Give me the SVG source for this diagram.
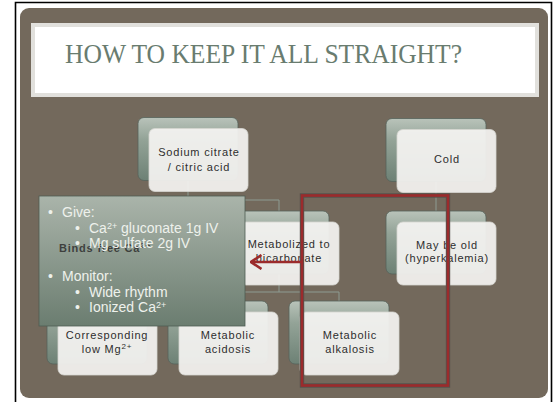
<svg xmlns="http://www.w3.org/2000/svg" width="557" height="402" viewBox="0 0 557 402">
  <defs>
    <linearGradient id="backGrad" x1="0" y1="0" x2="0" y2="1">
      <stop offset="0" stop-color="#b9c3ba"/>
      <stop offset="0.35" stop-color="#93a397"/>
      <stop offset="1" stop-color="#6d8175"/>
    </linearGradient>
    <linearGradient id="panelGrad" x1="0" y1="0" x2="0" y2="1">
      <stop offset="0" stop-color="#aab4aa"/>
      <stop offset="1" stop-color="#6b7d70"/>
    </linearGradient>
    <marker id="chev" viewBox="0 0 12 16" refX="10.5" refY="8" markerWidth="12" markerHeight="16" markerUnits="userSpaceOnUse" orient="auto">
      <path d="M0,1 L10.5,8 L0,15" fill="none" stroke="#9b2b2c" stroke-width="2.6"/>
    </marker>
  </defs>
  <style>
    .back { fill: url(#backGrad); stroke: #56625a; stroke-width: 0.8; }
    .front { fill: #f4f3f1; fill-opacity: 0.93; stroke: #d6d5d1; stroke-width: 0.8; }
    .lbl { font-family: "Liberation Sans", Arial, sans-serif; font-size: 11px; letter-spacing: 0.8px; fill: #2e2e2e; text-anchor: middle; }
    .conn { fill: none; stroke: #8e9c92; stroke-width: 1; }
    .pt { font-family: "Liberation Sans", Arial, sans-serif; font-size: 14px; fill: #eef1ec; }
  </style>

  <!-- page frame -->
  <rect x="0" y="0" width="557" height="402" fill="#ffffff"/>
  <path d="M15.5,402 V2.5 H551.5 V402" fill="none" stroke="#000000" stroke-width="1.6"/>

  <!-- slide background -->
  <rect x="20" y="8" width="528" height="390" rx="9" fill="#73695c"/>

  <!-- title bar -->
  <rect x="33" y="25" width="504" height="70" fill="#ffffff" stroke="#e1e0dc" stroke-width="4"/>
  <text x="65" y="63" font-family="'Liberation Serif', 'Times New Roman', serif" font-size="27" fill="#697c6f" textLength="397" lengthAdjust="spacingAndGlyphs">HOW TO KEEP IT ALL STRAIGHT?</text>

  <!-- connectors -->
  <g id="connectors">
    <path class="conn" d="M188,180.5 V200 M97,200 H279 M97,200 V211 M279,200 V211"/>
    <path class="conn" d="M97,274 V301"/>
    <path class="conn" d="M279,274 V292 M218,292 H339 M218,292 V301 M339,292 V301"/>
    <path class="conn" d="M436,181 V211"/>
  </g>

  <!-- row 1 -->
  <g id="node-sodium">
    <rect class="back" x="138" y="117.5" width="100" height="63" rx="6"/>
    <rect class="front" x="149" y="128.5" width="99" height="63" rx="6"/>
    <text class="lbl" x="199" y="156">Sodium  citrate</text>
    <text class="lbl" x="199" y="171">/ citric acid</text>
  </g>
  <g id="node-cold">
    <rect class="back" x="386" y="118.5" width="100" height="63" rx="6"/>
    <rect class="front" x="397" y="129.5" width="99" height="63" rx="6"/>
    <text class="lbl" x="447" y="163">Cold</text>
  </g>

  <!-- row 2 -->
  <g id="node-binds">
    <rect class="back" x="47" y="211" width="100" height="63" rx="6"/>
    <rect class="front" x="58" y="222" width="99" height="63" rx="6"/>
  </g>
  <g id="node-metabolized">
    <rect class="back" x="229" y="211" width="100" height="63" rx="6"/>
    <rect class="front" x="240" y="222" width="99" height="63" rx="6"/>
    <text class="lbl" x="289" y="248">Metabolized to</text>
    <text class="lbl" x="289" y="262">bicarbonate</text>
  </g>
  <g id="node-old">
    <rect class="back" x="386" y="211" width="100" height="63" rx="6"/>
    <rect class="front" x="397" y="222" width="99" height="63" rx="6"/>
    <text class="lbl" x="447" y="249">May be old</text>
    <text class="lbl" x="447" y="262">(hyperkalemia)</text>
  </g>

  <!-- row 3 -->
  <g id="node-lowmg">
    <rect class="back" x="47" y="301" width="100" height="63" rx="6"/>
    <rect class="front" x="58" y="312" width="99" height="63" rx="6"/>
    <text class="lbl" x="107" y="339">Corresponding</text>
    <text class="lbl" x="107" y="353">low Mg<tspan font-size="8" dy="-4">2+</tspan></text>
  </g>
  <g id="node-acidosis">
    <rect class="back" x="168" y="301" width="100" height="63" rx="6"/>
    <rect class="front" x="179" y="312" width="99" height="63" rx="6"/>
    <text class="lbl" x="228" y="339">Metabolic</text>
    <text class="lbl" x="228" y="353">acidosis</text>
  </g>
  <g id="node-alkalosis">
    <rect class="back" x="289" y="301" width="100" height="63" rx="6"/>
    <rect class="front" x="300" y="312" width="99" height="63" rx="6"/>
    <text class="lbl" x="350" y="339">Metabolic</text>
    <text class="lbl" x="350" y="353">alkalosis</text>
  </g>

  <!-- highlight box and arrow -->
  <g id="highlight">
    <rect x="302" y="195.5" width="146" height="190" fill="none" stroke="#55524c" stroke-width="4.4"/>
    <rect x="302" y="195.5" width="146" height="190" fill="none" stroke="#9b2b2c" stroke-width="2.6"/>
    <line x1="302" y1="262" x2="251" y2="262" stroke="#9b2b2c" stroke-width="2.6" marker-end="url(#chev)"/>
  </g>

  <!-- treatment panel -->
  <g id="panel">
    <rect x="39" y="196" width="206" height="130" fill="url(#panelGrad)" stroke="#4f5c53" stroke-width="0.8"/>
    <text class="lbl" x="105" y="252" font-weight="bold" fill-opacity="0.85">Binds free Ca<tspan font-size="8" dy="-4">2+</tspan></text>
    <g class="pt">
      <text x="48" y="217">•</text>
      <text x="62" y="217">Give:</text>
      <text x="75" y="233">•</text>
      <text x="89" y="233">Ca<tspan font-size="9" dy="-4">2+</tspan><tspan dy="4"> gluconate 1g IV</tspan></text>
      <text x="75" y="248">•</text>
      <text x="89" y="248">Mg sulfate 2g IV</text>
      <text x="48" y="281">•</text>
      <text x="62" y="281">Monitor:</text>
      <text x="75" y="297">•</text>
      <text x="89" y="297">Wide rhythm</text>
      <text x="75" y="312">•</text>
      <text x="89" y="312">Ionized Ca<tspan font-size="9" dy="-4">2+</tspan></text>
    </g>
  </g>
</svg>
